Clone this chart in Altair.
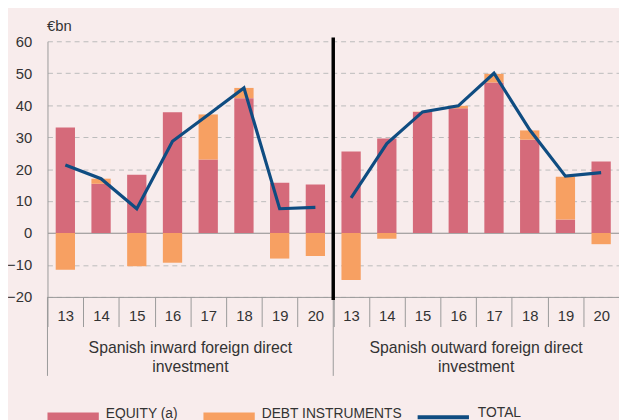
import altair as alt
import pandas as pd

years = ["13", "14", "15", "16", "17", "18", "19", "20"]
group_labels = ["Spanish inward foreign direct\ninvestment",
                "Spanish outward foreign direct\ninvestment"]
group_prefix = ["I", "O"]

inward_equity = [33.0, 15.4, 18.2, 37.8, 23.0, 42.2, 15.7, 15.2]
inward_debt = [-11.5, 1.6, -10.4, -9.3, 14.1, 3.2, -8.0, -7.2]
inward_total = [21.3, 17.0, 7.6, 28.7, 37.0, 45.4, 7.6, 8.0]

outward_equity = [25.5, 29.6, 37.9, 39.0, 47.1, 29.2, 4.2, 22.4]
outward_debt = [-14.7, -1.8, 0.1, 0.8, 2.7, 2.9, 13.4, -3.5]
outward_total = [11.0, 28.0, 37.9, 39.8, 50.0, 32.3, 17.8, 18.9]

series_names = ["EQUITY (a)", "DEBT INSTRUMENTS"]
series_colors = ["#D56A7A", "#F7A062"]
total_name = "TOTAL"
total_color = "#0F4C81"

BG = "#F8ECEC"
TXT = "#333333"
AX = "#999999"
FONT = "Liberation Sans, Arial, Helvetica, sans-serif"
LEGFONT = "Liberation Sans Narrow, Arial Narrow, Liberation Sans, Arial, sans-serif"

keys = [p + y for p in group_prefix for y in years]

bar_rows, line_rows = [], []
for p, eq, de, tot in [("I", inward_equity, inward_debt, inward_total),
                       ("O", outward_equity, outward_debt, outward_total)]:
    for y, e, d, t in zip(years, eq, de, tot):
        bar_rows.append({"key": p + y, "series": series_names[0], "value": e, "ord": 0})
        bar_rows.append({"key": p + y, "series": series_names[1], "value": d, "ord": 1})
        line_rows.append({"key": p + y, "grp": p, "total": t, "s": total_name})
bars_df = pd.DataFrame(bar_rows)
line_df = pd.DataFrame(line_rows)

W, H = 579, 259

xscale = alt.Scale(domain=keys, paddingInner=0, paddingOuter=0)
yscale = alt.Scale(domain=[-20, 60], nice=False)

x_axis = alt.Axis(
    title=None, labelExpr="slice(datum.label, 1)", labelAngle=0,
    tickBand="extent", tickSize=30, tickColor=AX, domainColor=AX,
    labelPadding=-18, labelFontSize=15, labelFont=FONT, labelColor=TXT,
    grid=False,
)
y_axis = alt.Axis(
    values=list(range(-20, 61, 10)), title="€bn", titleAngle=0, titleX=-1,
    titleY=-11, titleAlign="left", titleBaseline="alphabetic",
    titleFontWeight="normal", titleFontSize=15, titleFont=FONT, titleColor=TXT,
    ticks=False, labelPadding=16, labelFontSize=15, labelFont=FONT,
    labelColor=TXT, domainColor=AX, labelOverlap=False,
    gridColor={"condition": {"test": "datum.value === 0", "value": "#8a8a8a"}, "value": "#bbbbbb"},
    gridDash={"condition": {"test": "datum.value === 0", "value": []}, "value": [5, 4]},
)

bars = alt.Chart(bars_df).mark_bar(width=alt.RelativeBandSize(0.54)).encode(
    x=alt.X("key:N", scale=xscale, axis=x_axis, sort=keys),
    y=alt.Y("value:Q", scale=yscale, axis=y_axis, stack="zero"),
    color=alt.Color("series:N", scale=alt.Scale(domain=series_names, range=series_colors),
                    legend=alt.Legend(
                        orient="none", legendX=0, legendY=356, direction="horizontal",
                        title=None, padding=0,
                        symbolType="M-1,-0.23L1,-0.23L1,0.23L-1,0.23Z", symbolSize=2704,
                        symbolStrokeWidth=0, symbolOpacity=1,
                        labelFont=LEGFONT, labelFontSize=14, labelColor=TXT,
                        labelBaseline="alphabetic",
                        labelOffset=7, columnPadding=25)),
    order=alt.Order("ord:Q"),
)

line = alt.Chart(line_df).mark_line(strokeWidth=3.2).encode(
    x=alt.X("key:N", scale=xscale, axis=x_axis, sort=keys),
    y=alt.Y("total:Q", scale=yscale, axis=y_axis),
    detail="grp:N",
    stroke=alt.Stroke("s:N", scale=alt.Scale(domain=[total_name], range=[total_color]),
                      legend=alt.Legend(
                          orient="none", legendX=373, legendY=353, title=None, padding=0,
                          symbolType="stroke", symbolSize=2704, symbolStrokeWidth=4,
                          labelFont=LEGFONT, labelFontSize=14, labelColor=TXT,
                          labelBaseline="alphabetic",
                          labelOffset=7)),
)

sep_df = pd.DataFrame({"key": ["O13"]})
separator = alt.Chart(sep_df).mark_rule(color="#000000", strokeWidth=3.5).encode(
    x=alt.X("key:N", scale=xscale, axis=x_axis, bandPosition=0),
    y=alt.YDatum(61.2, scale=yscale, axis=y_axis),
    y2=alt.datum(-21),
)

div_df = pd.DataFrame({"key": ["I13", "O13"]})
dividers = alt.Chart(div_df).mark_rule(color=AX, strokeWidth=1).encode(
    x=alt.X("key:N", scale=xscale, axis=x_axis, bandPosition=0),
    y=alt.YDatum(-20, scale=yscale, axis=y_axis),
    y2=alt.value(H + 80),
)

glab_df = pd.DataFrame({"key": ["I17", "O17"], "label": group_labels})
glabels = alt.Chart(glab_df).mark_text(
    align="center", baseline="top", lineBreak="\n", fontSize=16, lineHeight=19,
    font=FONT, color=TXT,
).encode(
    x=alt.X("key:N", scale=xscale, axis=x_axis, bandPosition=0),
    y=alt.value(H + 44),
    text="label:N",
)

chart = alt.layer(bars, line, dividers, separator, glabels).properties(
    width=W, height=H,
    padding={"left": 40, "top": 31, "right": 0, "bottom": 122},
    autosize="none",
).configure(background=BG).configure_view(stroke=None)

chart.save("out.html", embed_options={"renderer": "svg", "actions": False})
